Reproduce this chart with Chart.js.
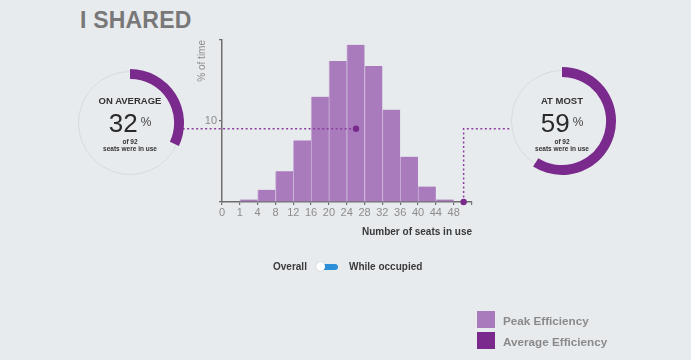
<!DOCTYPE html>
<html>
<head>
<meta charset="utf-8">
<script src="https://cdn.jsdelivr.net/npm/chart.js@4.4.1/dist/chart.umd.min.js"></script>
<style>
  html, body { margin: 0; padding: 0; }
  body {
    width: 691px; height: 360px; position: relative; overflow: hidden;
    background: #e8ebee; font-family: "Liberation Sans", Arial, sans-serif;
  }
  #main { position: absolute; left: 0; top: 0; }
  .title { position: absolute; left: 80px; top: 7px; font-size: 23px; font-weight: bold; color: #787878; letter-spacing: 0.2px; }
  .ring { position: absolute; border-radius: 50%; border: 1.5px solid #d6dae0; box-sizing: border-box; }
  .donut { position: absolute; }
  .gauge-text { position: absolute; width: 100px; text-align: center; color: #2a2a2a; }
  .gauge-text .lbl { font-size: 9.5px; font-weight: bold; color: #333; line-height: 11px; }
  .gauge-text .big { font-size: 26px; line-height: 26px; margin-top: 3px; }
  .gauge-text .big span { font-size: 12px; vertical-align: 6px; margin-left: 3px; color: #444; }
  .gauge-text .small { font-size: 6.5px; font-weight: bold; line-height: 6.5px; color: #333; margin-top: 3px; }
  .toggle { position: absolute; top: 261px; font-size: 10px; font-weight: bold; color: #3a3a3a; }
  .switch { position: absolute; left: 318px; top: 264px; width: 20px; height: 6px; border-radius: 3px; background: #2b8fd9; }
  .knob { position: absolute; left: 316px; top: 262px; width: 9px; height: 9px; border-radius: 50%; background: #fff; box-shadow: 0 0 1px #999; }
  .leg-box { position: absolute; left: 477px; width: 18px; height: 17px; }
  .leg-txt { position: absolute; left: 503px; font-size: 11.7px; font-weight: bold; color: #8a8a8a; }
</style>
</head>
<body>
<div class="title">I SHARED</div>

<canvas id="main" width="691" height="360"></canvas>

<div class="ring" style="left:78px; top:71px; width:104px; height:104px;"></div>
<canvas class="donut" id="avgDonut" width="120" height="120" style="left:70px; top:63px;"></canvas>
<div class="gauge-text" style="left:80px; top:95px;">
  <div class="lbl">ON AVERAGE</div>
  <div class="big">32<span>%</span></div>
  <div class="small">of 92<br>seats were in use</div>
</div>

<div class="ring" style="left:511px; top:70px; width:102px; height:102px;"></div>
<canvas class="donut" id="peakDonut" width="120" height="120" style="left:502px; top:61px;"></canvas>
<div class="gauge-text" style="left:512px; top:95px;">
  <div class="lbl">AT MOST</div>
  <div class="big">59<span>%</span></div>
  <div class="small">of 92<br>seats were in use</div>
</div>

<div class="toggle" style="left:273px;">Overall</div>
<div class="switch"></div>
<div class="knob"></div>
<div class="toggle" style="left:349px;">While occupied</div>

<div class="leg-box" style="top:311px; background:#a97bbd;"></div>
<div class="leg-txt" style="top:314px;">Peak Efficiency</div>
<div class="leg-box" style="top:332px; background:#7a2a8c;"></div>
<div class="leg-txt" style="top:335px;">Average Efficiency</div>

<script>
// bin edge labels along the x axis (tick i sits at position i)
const edgeLabels = ['0', '1', '4', '8', '12', '16', '20', '24', '28', '32', '36', '40', '44', '48'];
// % of time for each bin between two edges (0-1, 1-4, 4-8, ... 44-48)
const binShares = [0, 0.3, 1.5, 3.8, 7.6, 13.0, 17.4, 19.4, 16.8, 11.4, 5.6, 1.9, 0.3];
const yTicks = [0, 10, 20];
const avgPos = 7.52;      // average seats, in axis positions
const peakPos = 13.56;    // peak seats, in axis positions
const markerLevel = 9.05; // height of the dotted guide lines
const avgPercent = 32;
const peakPercent = 59;

const purpleLight = '#a97bbd';
const purpleDark = '#7a2a8c';
const axisGray = '#6e6e6e';

const barPoints = binShares.map((v, i) => ({ x: i + 0.5, y: v }));

new Chart(document.getElementById('main').getContext('2d'), {
  data: {
    datasets: [
      {
        type: 'bar',
        data: barPoints,
        backgroundColor: purpleLight,
        borderColor: '#cbb3d8',
        borderWidth: { left: 1, right: 0, top: 0, bottom: 0 },
        borderSkipped: false,
        barPercentage: 1,
        categoryPercentage: 1,
        order: 2,
      },
      {
        type: 'line',
        data: [{ x: -2.21, y: markerLevel }, { x: avgPos, y: markerLevel }],
        borderColor: '#8b3f9c',
        borderWidth: 1.5,
        borderDash: [2, 2.5],
        pointRadius: [0, 3.2],
        pointBackgroundColor: purpleDark,
        pointBorderWidth: 0,
        clip: false,
        order: 1,
      },
      {
        type: 'line',
        data: [{ x: peakPos, y: 0 }, { x: peakPos, y: markerLevel }, { x: 16.2, y: markerLevel }],
        borderColor: '#8b3f9c',
        borderWidth: 1.5,
        borderDash: [2, 2.5],
        pointRadius: [3.2, 0, 0],
        pointBackgroundColor: purpleDark,
        pointBorderWidth: 0,
        clip: false,
        order: 1,
      },
    ],
  },
  options: {
    responsive: false,
    animation: false,
    layout: { padding: { left: 196, right: 219, top: 40, bottom: 118 } },
    plugins: { legend: { display: false }, tooltip: { enabled: false } },
    scales: {
      x: {
        type: 'linear',
        offset: false,
        min: 0,
        max: 14.03,
        afterBuildTicks(scale) {
          scale.ticks = edgeLabels.map((_, i) => ({ value: i })).concat([{ value: 14.03 }]);
        },
        afterFit(scale) { scale.height = 40; },
        ticks: {
          autoSkip: false,
          maxRotation: 0,
          padding: 1,
          color: '#8c8c8c',
          font: { family: 'Liberation Sans', size: 11 },
          callback: (v) => edgeLabels[v] !== undefined ? edgeLabels[v] : '',
        },
        grid: { offset: false, drawOnChartArea: false, drawTicks: true, tickLength: 3, color: axisGray, lineWidth: 1.2 },
        border: { color: axisGray, width: 1.5 },
        title: {
          display: true,
          align: 'end',
          text: 'Number of seats in use',
          color: '#3a3a3a',
          font: { family: 'Liberation Sans', size: 10, weight: 'bold' },
          padding: { top: 0, bottom: 4 },
        },
      },
      y: {
        min: 0,
        max: 20,
        afterBuildTicks(scale) {
          scale.ticks = yTicks.map((v) => ({ value: v }));
        },
        afterFit(scale) { scale.width = 26; },
        ticks: {
          padding: 2,
          color: '#8c8c8c',
          font: { family: 'Liberation Sans', size: 11 },
          callback: (v) => (v === 10 ? '10' : ''),
        },
        grid: { drawOnChartArea: false, drawTicks: true, tickLength: 3, color: axisGray, lineWidth: 1.2 },
        border: { color: axisGray, width: 1.5 },
        title: {
          display: true,
          align: 'end',
          text: '% of time',
          color: '#8c8c8c',
          font: { family: 'Liberation Sans', size: 10 },
          padding: { top: 0, bottom: 0 },
        },
      },
    },
  },
});

function drawGauge(id, percent) {
  new Chart(document.getElementById(id).getContext('2d'), {
    type: 'doughnut',
    data: {
      labels: ['used', 'rest'],
      datasets: [{
        data: [percent, 100 - percent],
        backgroundColor: [purpleDark, 'rgba(0,0,0,0)'],
        borderWidth: 0,
      }],
    },
    options: {
      responsive: false,
      animation: false,
      radius: 54,
      cutout: 49,
      plugins: { legend: { display: false }, tooltip: { enabled: false } },
    },
  });
}

drawGauge('avgDonut', avgPercent);
drawGauge('peakDonut', peakPercent);
</script>
</body>
</html>
